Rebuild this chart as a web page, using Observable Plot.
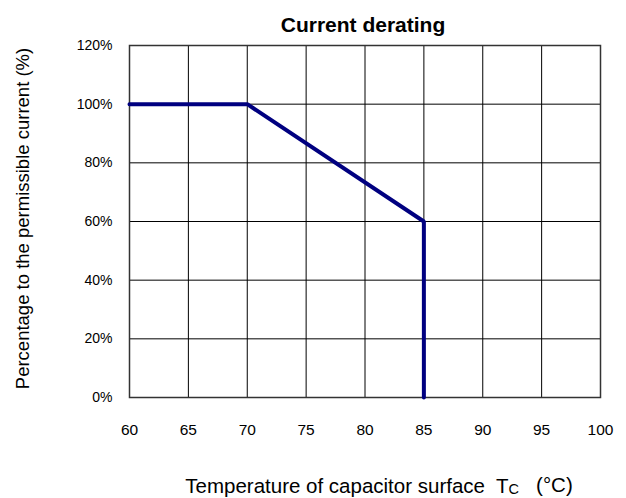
<!DOCTYPE html>
<html><head><meta charset="utf-8">
<script src="https://cdn.jsdelivr.net/npm/d3@7"></script>
<script src="https://cdn.jsdelivr.net/npm/@observablehq/plot@0.6"></script>
<style>body{margin:0;background:#fff;} svg{font-family:"Liberation Sans",Arial,sans-serif;}</style>
</head><body><div id="chart"></div>
<script>
const temps = [60, 70, 85, 85];
const percents = [100, 100, 60, 0];
const xTicks = [60, 65, 70, 75, 80, 85, 90, 95, 100];
const yTicks = [0, 20, 40, 60, 80, 100, 120];
const title = "Current derating";
const xLabel = "Temperature of capacitor surface  T";
const yLabel = "Percentage to the permissible current (%)";

const data = temps.map((t, i) => ({t, p: percents[i]}));

const chart = Plot.plot({
  width: 626, height: 498,
  marginLeft: 129, marginRight: 26, marginTop: 45, marginBottom: 101,
  style: {fontFamily: '"Liberation Sans", Arial, sans-serif', background: "#fff"},
  x: {domain: [60, 100]},
  y: {domain: [0, 120]},
  marks: [
    Plot.gridX(xTicks, {stroke: "#000", strokeOpacity: 1, strokeWidth: 1}),
    Plot.gridY(yTicks, {stroke: "#000", strokeOpacity: 1, strokeWidth: 1}),
    Plot.frame({stroke: "#333", strokeWidth: 1.5}),
    Plot.axisX(xTicks, {tickSize: 0, tickPadding: 26, fontSize: 15.5, label: null, tickFormat: d => d, className: "xt"}),
    Plot.axisY(yTicks, {tickSize: 0, tickPadding: 17, fontSize: 14, label: null, tickFormat: d => d + "%", className: "yt"}),
    Plot.line(data, {x: "t", y: "p", stroke: "#000080", strokeWidth: 4, strokeLinejoin: "miter"}),
    Plot.text([title], {frameAnchor: "top", lineAnchor: "bottom", dx: -2, dy: -14, text: d => d, fontSize: 21, fontWeight: "bold", fill: "#000"}),
    Plot.text([xLabel], {frameAnchor: "bottom", lineAnchor: "bottom", textAnchor: "middle", dx: 14, dy: 95, text: d => d, fontSize: 20.5, fill: "#000", className: "xlab"}),
    Plot.text([yLabel], {frameAnchor: "left", lineAnchor: "bottom", textAnchor: "middle", dx: -101, dy: -3, rotate: -90, text: d => d, fontSize: 18.5, fill: "#000"})
  ]
});
document.getElementById("chart").appendChild(chart);
const svg = d3.select(chart.tagName === "svg" ? chart : chart.querySelector("svg"));
svg.selectAll("g.xt").attr("font-size", 15.5);
svg.selectAll("g.yt").attr("font-size", 14);
// add subscript C and unit to x label
svg.selectAll("g.xlab text").each(function() {
  const t = d3.select(this);
  t.append("tspan").attr("font-size", 14.5).attr("dy", "0.08em").text("C");
  t.append("tspan").attr("font-size", 20.5).attr("dy", "-0.06em").text("   (°C)");
});
</script></body></html>
